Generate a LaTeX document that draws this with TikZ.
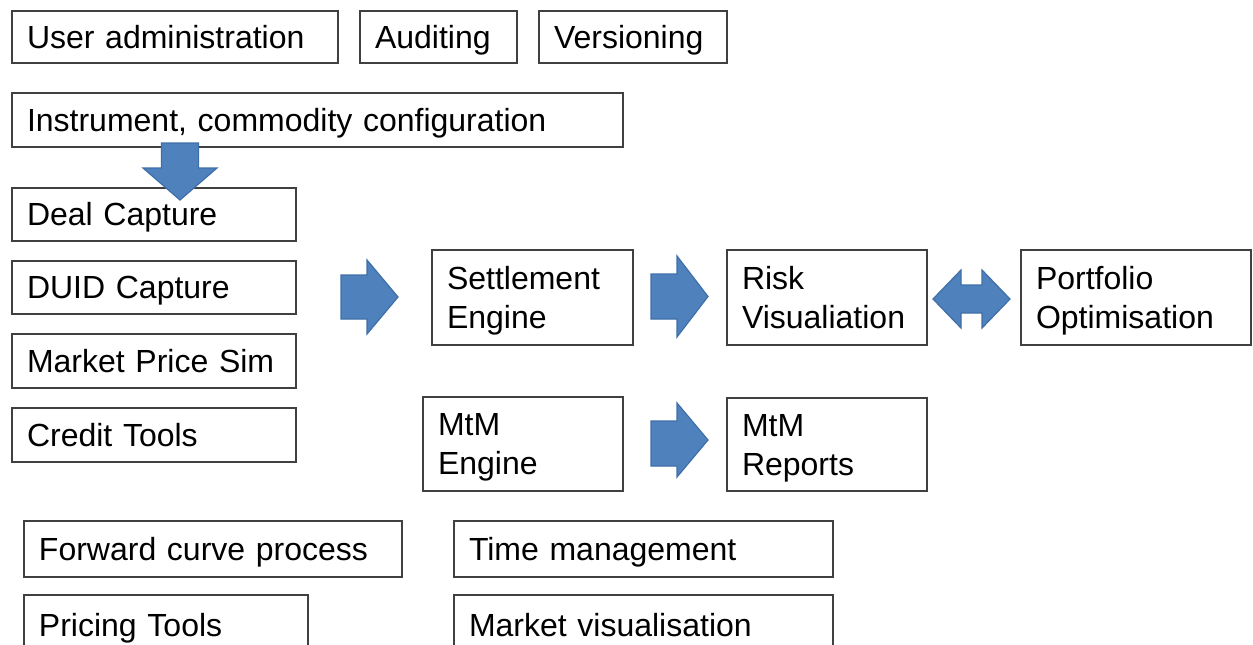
\documentclass[tikz,border=0pt]{standalone}
\usepackage{fontspec}
\setmainfont{Liberation Sans}
\definecolor{boxline}{HTML}{404040}
\definecolor{arrowfill}{HTML}{4F81BD}
\definecolor{arrowline}{HTML}{3F6FA8}
\newcommand\lblfont{\fontsize{16}{19.5}\selectfont}
\begin{document}
\begin{tikzpicture}[x=0.5pt,y=-0.5pt,
  box/.style 2 args={draw=boxline, line width=1pt, anchor=north west,
    minimum width=#1*0.5pt, minimum height=#2*0.5pt,
    inner xsep=7.5pt, inner ysep=0pt,
    text width=#1*0.5pt-15pt, align=left, font=\lblfont,
    text height=12pt, text depth=1pt},
  twoline/.style={text depth=20.5pt},
  blockarrow/.style={fill=arrowfill, draw=arrowline, line width=0.6pt, line join=miter}]
\clip (0,0) rectangle (1253,644);
\fill[white] (0,0) rectangle (1253,644);

% top row
\node[box={326}{52}] (useradmin) at (11,10) {User administration};
\node[box={157}{52}] (auditing) at (359,10) {Auditing};
\node[box={188}{52}] (versioning) at (538,10) {Versioning};
\node[box={611}{54}] (instrument) at (11,92) {Instrument, commodity configuration};

% capture column
\node[box={284}{53}] (deal) at (11,187) {Deal Capture};
\node[box={284}{53}] (duid) at (11,260) {DUID Capture};
\node[box={284}{54}] (mps) at (11,333) {Market Price Sim};
\node[box={284}{54}] (credit) at (11,407) {Credit Tools};

% engines and outputs
\node[box={201}{95}, twoline] (settle) at (431,249) {Settlement\\Engine};
\node[box={200}{95}, twoline] (risk) at (726,249) {Risk\\Visualiation};
\node[box={230}{95}, twoline] (portfolio) at (1020,249) {Portfolio\\Optimisation};
\node[box={200}{94}, twoline] (mtmengine) at (422,396) {MtM\\Engine};
\node[box={200}{93}, twoline] (mtmreports) at (726,397) {MtM\\Reports};

% bottom rows
\node[box={378}{56}] (forward) at (23,520) {Forward curve process};
\node[box={379}{56}] (time) at (453,520) {Time management};
\node[box={284}{60}] (pricing) at (23,594) {Pricing Tools};
\node[box={379}{60}] (marketvis) at (453,594) {Market visualisation};

% down arrow: configuration -> deal capture
\path[blockarrow] (161.5,143) -- (198.5,143) -- (198.5,168) -- (217,168)
  -- (180,200) -- (143,168) -- (161.5,168) -- cycle;

% right arrow: capture -> settlement
\path[blockarrow] (341,275) -- (367,275) -- (367,260) -- (398,297)
  -- (367,334) -- (367,319) -- (341,319) -- cycle;

% right arrow: settlement -> risk
\path[blockarrow] (651,274) -- (677,274) -- (677,256) -- (708,296.5)
  -- (677,337) -- (677,319) -- (651,319) -- cycle;

% right arrow: MtM engine -> MtM reports
\path[blockarrow] (651,421) -- (677,421) -- (677,403) -- (708,440)
  -- (677,477) -- (677,466) -- (651,466) -- cycle;

% double arrow: risk <-> portfolio
\path[blockarrow] (933,299) -- (961,270) -- (961,285) -- (982,285) -- (982,270)
  -- (1010,299) -- (982,328) -- (982,313) -- (961,313) -- (961,328) -- cycle;
\end{tikzpicture}
\end{document}
